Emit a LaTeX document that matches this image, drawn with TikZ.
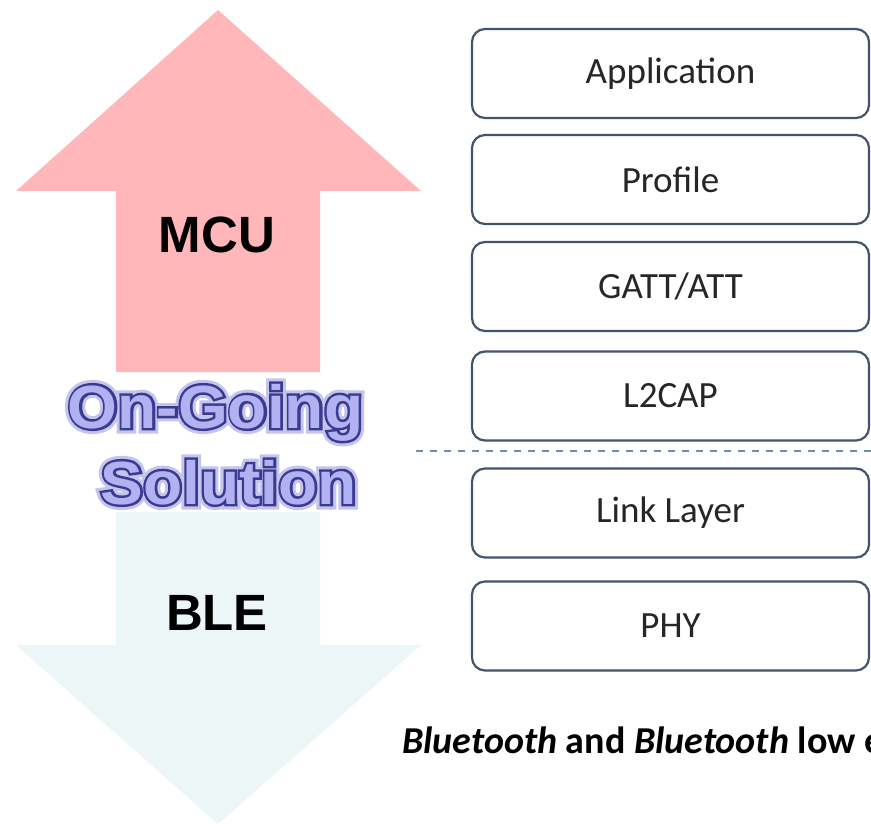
\documentclass[tikz,border=0pt]{standalone}
\usepackage{fontspec}
\setmainfont{Carlito}
\newfontfamily\arialb{Liberation Sans Bold}
\newfontfamily\ogglowfont[FakeStretch=1.05,FakeBold=18]{Liberation Sans Bold}
\newfontfamily\oglinefont[FakeStretch=1.05,FakeBold=8]{Liberation Sans Bold}
\newfontfamily\ogfillfont[FakeStretch=1.05]{Liberation Sans Bold}
\definecolor{mcupink}{RGB}{255,183,186}
\definecolor{blelight}{RGB}{236,246,246}
\definecolor{boxline}{RGB}{68,84,106}
\definecolor{dashcol}{RGB}{110,140,175}
\definecolor{ogfillc}{RGB}{178,178,242}
\definecolor{oglinec}{RGB}{58,58,145}
\definecolor{ogglowc}{RGB}{196,196,236}
\definecolor{boxtext}{RGB}{38,38,38}
\tikzset{
  layerbox/.style={draw=boxline, line width=2.2pt, rounded corners=13pt, fill=white,
    minimum width=397pt, minimum height=89pt, inner sep=0pt,
    font=\fontsize{37}{37}\selectfont, text=boxtext},
  bigword/.style={inner sep=0pt, font=\arialb\fontsize{51}{51}\selectfont, text=black},
  ogglow/.style={inner sep=0pt, anchor=base, text=ogglowc, font=\ogglowfont\fontsize{61}{61}\selectfont},
  ogline/.style={inner sep=0pt, anchor=base, text=oglinec, font=\oglinefont\fontsize{61}{61}\selectfont},
  ogfill/.style={inner sep=0pt, anchor=base, text=ogfillc, font=\ogfillfont\fontsize{61}{61}\selectfont},
  dashsep/.style={draw=dashcol, line width=1.5pt, dash pattern=on 7pt off 7pt}
}
\begin{document}
\begin{tikzpicture}[x=1pt,y=-1pt]
\clip (0,0) rectangle (871,824);
\fill[white] (0,0) rectangle (871,824);
% arrows
\fill[mcupink] (116,372) -- (116,191) -- (16,191) -- (218,10) -- (421,191) -- (320,191) -- (320,372) -- cycle;
\fill[blelight] (116,512) -- (116,645) -- (16,645) -- (218,824) -- (421,645) -- (320,645) -- (320,512) -- cycle;
\node[bigword] (mcu) at (217,235) {MCU};
\node[bigword] (ble) at (217,613) {BLE};
% On-Going Solution
\node[ogglow] (g1) at (215.5,428) {On-Going};
\node[ogline] (l1) at (215.5,428) {On-Going};
\node[ogfill] (f1) at (215.5,428) {On-Going};
\node[ogglow] (g2) at (228.5,504) {Solution};
\node[ogline] (l2) at (228.5,504) {Solution};
\node[ogfill] (f2) at (228.5,504) {Solution};
% stack
\node[layerbox] (app) at (670.5,73.5) {Application};
\node[layerbox] (prof) at (670.5,179.5) {Profile};
\node[layerbox] (gatt) at (670.5,286.5) {GATT/ATT};
\node[layerbox] (l2cap) at (670.5,396) {L2CAP};
\node[layerbox] (link) at (670.5,513) {Link Layer};
\node[layerbox] (phy) at (670.5,626) {PHY};
\coordinate (dl) at (416,451);
\coordinate (dr) at (871,451);
\draw[dashsep] (dl) -- (dr);
\node[anchor=base west, inner sep=0pt, font=\bfseries\fontsize{38}{38}\selectfont] (cap) at (402,753) {\textit{Bluetooth} and \textit{Bluetooth} low e};
\end{tikzpicture}
\end{document}
